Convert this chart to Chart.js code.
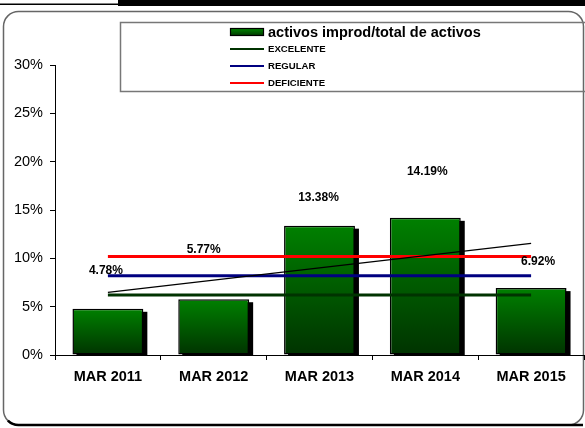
<!DOCTYPE html>
<html>
<head>
<meta charset="utf-8">
<script src="https://cdn.jsdelivr.net/npm/chart.js@4/dist/chart.umd.min.js"></script>
<style>
    html, body { margin: 0; padding: 0; background: #fff; }
    canvas { display: block; }
</style>
</head>
<body>
<canvas id="chart" width="585" height="428"></canvas>
<script>
// datos
const categories = ['MAR 2011', 'MAR 2012', 'MAR 2013', 'MAR 2014', 'MAR 2015'];
const ratioLabel = 'activos improd/total de activos';
const ratioValues = [4.78, 5.77, 13.38, 14.19, 6.92];
const excelenteValues = [6.2, 6.2, 6.2, 6.2, 6.2];
const regularValues = [8.2, 8.2, 8.2, 8.2, 8.2];
const deficienteValues = [10.2, 10.2, 10.2, 10.2, 10.2];
// linea de tendencia: solo los extremos, se unen con spanGaps
const trendValues = [6.47, null, null, null, 11.55];
const yTickValues = [0, 5, 10, 15, 20, 25, 30];

const FONT = "'Liberation Sans', Arial, sans-serif";

// gradiente verde de cada barra (claro arriba, oscuro abajo)
function barGradient(ctx) {
    const chart = ctx.chart;
    if (!chart.chartArea || ctx.type !== 'data') {
        return '#006600';
    }
    const y = chart.scales.y;
    const top = y.getPixelForValue(ctx.raw);
    const base = y.getPixelForValue(0);
    const g = chart.ctx.createLinearGradient(0, top, 0, base);
    g.addColorStop(0, '#008000');
    g.addColorStop(1, '#003300');
    return g;
}

// marco redondeado y franja negra de arriba
const framePlugin = {
    id: 'frame',
    beforeDraw(chart) {
        const c = chart.ctx;
        c.save();
        c.fillStyle = '#fff';
        c.fillRect(0, 0, chart.width, chart.height);
        c.fillStyle = '#000';
        c.fillRect(0, 3.5, 120, 1.5);
        c.fillRect(118, 0, chart.width - 118, 6);

        c.strokeStyle = '#666';
        c.lineWidth = 1.5;
        c.beginPath();
        c.roundRect(3.5, 11.5, 580, 413.5, 15);
        c.stroke();
        // sombra inferior
        c.strokeStyle = '#000';
        c.lineWidth = 2.5;
        c.beginPath();
        c.arc(18.5, 410, 15, Math.PI * 0.75, Math.PI * 0.5, true);
        c.lineTo(583, 425);
        c.stroke();
        c.restore();
    }
};

// sombra negra de las barras (desplazada a la derecha y abajo)
const shadowPlugin = {
    id: 'barShadow',
    beforeDatasetDraw(chart, args) {
        if (args.index !== 0) return;
        const c = chart.ctx;
        const area = chart.chartArea;
        c.save();
        c.beginPath();
        c.rect(area.left, area.top, area.right - area.left, area.bottom - area.top);
        c.clip();
        c.fillStyle = '#000';
        args.meta.data.forEach(bar => {
            const p = bar.getProps(['x', 'y', 'width', 'base'], true);
            c.fillRect(p.x - p.width / 2 + 4, p.y + 3, p.width, p.base - p.y);
        });
        c.restore();
    }
};

// etiquetas de valor sobre las barras
const valueLabelPlugin = {
    id: 'valueLabels',
    afterDatasetsDraw(chart, args, opts) {
        const c = chart.ctx;
        const meta = chart.getDatasetMeta(0);
        const data = chart.data.datasets[0].data;
        c.save();
        c.font = 'bold 12px ' + FONT;
        c.fillStyle = '#000';
        c.textAlign = 'center';
        c.textBaseline = 'middle';
        meta.data.forEach((bar, i) => {
            const shift = opts.shift[i] || [0, 20];
            c.fillText(data[i].toFixed(2) + '%', bar.x + shift[0], bar.y - shift[1]);
        });
        c.restore();
    }
};

// leyenda dibujada a mano (tamaños de letra distintos)
const legendPlugin = {
    id: 'boxLegend',
    afterDraw(chart) {
        const c = chart.ctx;
        c.save();
        c.strokeStyle = '#777';
        c.lineWidth = 1.5;
        c.strokeRect(120.5, 22.5, 520, 69);

        const items = chart.data.datasets.filter(ds => ds.label);
        const rows = [32, 49, 66, 83];
        items.forEach((ds, i) => {
            const y = rows[i];
            if (ds.type === 'line') {
                c.strokeStyle = ds.borderColor;
                c.lineWidth = 2;
                c.beginPath();
                c.moveTo(230, y);
                c.lineTo(264, y);
                c.stroke();
                c.font = 'bold 9.6px ' + FONT;
            } else {
                const g = c.createLinearGradient(0, y - 3, 0, y + 4);
                g.addColorStop(0, '#008000');
                g.addColorStop(1, '#003300');
                c.fillStyle = g;
                c.fillRect(230.5, y - 3.5, 33, 7);
                c.strokeStyle = '#000';
                c.lineWidth = 1.2;
                c.strokeRect(230.5, y - 3.5, 33, 7);
                c.font = 'bold 14.5px ' + FONT;
            }
            c.fillStyle = '#000';
            c.textBaseline = 'middle';
            c.fillText(ds.label, 268, y + 0.5);
        });
        c.restore();
    }
};

const data = {
    labels: categories,
    datasets: [
        {
            type: 'bar',
            label: ratioLabel,
            data: ratioValues,
            backgroundColor: barGradient,
            borderColor: '#000',
            borderWidth: 1.5,
            borderSkipped: false,
            categoryPercentage: 1,
            barPercentage: 0.67,
            order: 10
        },
        {
            type: 'line',
            label: 'EXCELENTE',
            data: excelenteValues,
            borderColor: '#003300',
            borderWidth: 3,
            pointRadius: 0,
            order: 4
        },
        {
            type: 'line',
            label: 'REGULAR',
            data: regularValues,
            borderColor: '#000080',
            borderWidth: 3,
            pointRadius: 0,
            order: 3
        },
        {
            type: 'line',
            label: 'DEFICIENTE',
            data: deficienteValues,
            borderColor: '#ff0000',
            borderWidth: 3,
            pointRadius: 0,
            order: 2
        },
        {
            type: 'line',
            data: trendValues,
            borderColor: '#000',
            borderWidth: 1.3,
            pointRadius: 0,
            spanGaps: true,
            order: 1
        }
    ]
};

const config = {
    type: 'bar',
    data: data,
    plugins: [framePlugin, shadowPlugin, valueLabelPlugin, legendPlugin],
    options: {
        responsive: false,
        animation: false,
        layout: {
            padding: { top: 65, right: 1, left: 0, bottom: 0 }
        },
        plugins: {
            legend: { display: false },
            tooltip: { enabled: false },
            valueLabels: {
                shift: [[-2, 38], [-10, 50], [-1, 28], [2, 46], [7, 26]]
            }
        },
        scales: {
            x: {
                offset: true,
                grid: {
                    offset: true,
                    drawOnChartArea: false,
                    drawTicks: true,
                    tickLength: 5,
                    color: '#000'
                },
                border: { color: '#000', width: 1 },
                ticks: {
                    color: '#000',
                    padding: 8,
                    font: { family: FONT, size: 14.5, weight: 'bold' }
                },
                afterFit(scale) {
                    scale.height = 73;
                }
            },
            y: {
                min: 0,
                max: 30,
                afterBuildTicks(scale) {
                    scale.ticks = yTickValues.map(v => ({ value: v }));
                },
                grid: {
                    drawOnChartArea: false,
                    tickLength: 5,
                    color: '#000'
                },
                border: { color: '#000', width: 1 },
                ticks: {
                    color: '#000',
                    padding: 7,
                    font: { family: FONT, size: 14.5 },
                    callback: v => v + '%'
                },
                afterFit(scale) {
                    scale.width = 55;
                }
            }
        }
    }
};

new Chart(document.getElementById('chart'), config);
</script>
</body>
</html>
